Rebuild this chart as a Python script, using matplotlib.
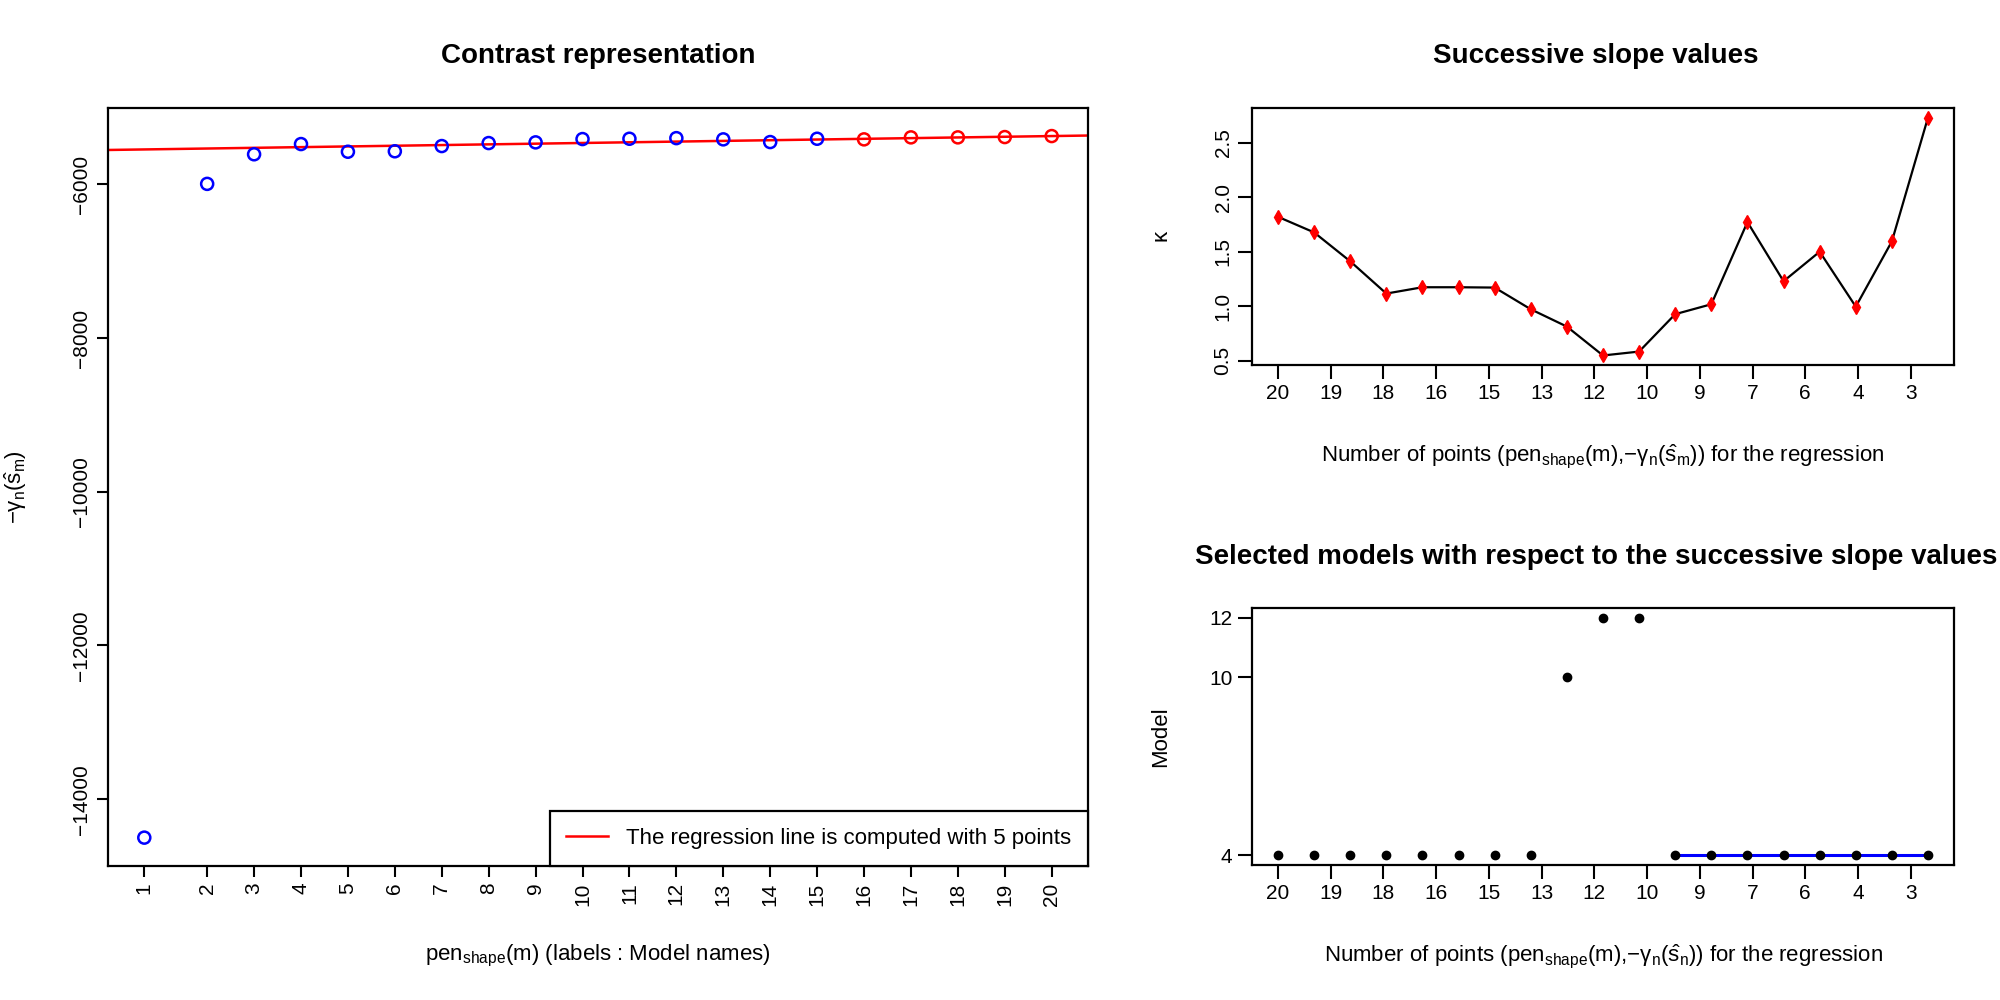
import numpy as np
import matplotlib
matplotlib.use("Agg")
import matplotlib.pyplot as plt

plt.rcParams["font.family"] = ["Liberation Sans", "DejaVu Sans"]
plt.rcParams["mathtext.fontset"] = "custom"
plt.rcParams["mathtext.rm"] = "Liberation Sans"
plt.rcParams["mathtext.it"] = "Liberation Sans"
plt.rcParams["mathtext.bf"] = "Liberation Sans:bold"
plt.rcParams["axes.linewidth"] = 1.6

# contrast representation (left)
model_names = [str(i) for i in range(1, 21)]
pen_shape = [1.0, 2.34, 3.34, 4.34, 5.34, 6.34, 7.34, 8.34, 9.34, 10.34,
             11.34, 12.34, 13.34, 14.34, 15.34, 16.34, 17.34, 18.34, 19.34, 20.34]
contrast = [-14500, -5995, -5610, -5477, -5577, -5571, -5503, -5464, -5455, -5412,
            -5408, -5400, -5416, -5451, -5408, -5416, -5390, -5390, -5386, -5373]
n_reg = 5

# successive slope values (top right)
kappa = [1.821, 1.678, 1.413, 1.117, 1.175, 1.175, 1.172, 0.973, 0.814, 0.549,
         0.585, 0.928, 1.019, 1.773, 1.230, 1.501, 0.997, 1.596, 2.732]
npoint_labels = ["20", "19", "18", "16", "15", "13", "12", "10", "9", "7", "6", "4", "3"]

# selected models (bottom right)
selected_model = [4, 4, 4, 4, 4, 4, 4, 4, 10, 12, 12, 4, 4, 4, 4, 4, 4, 4, 4]
stable_start = 12  # first index of the plateau (1-based)

TICK = 15
LAB = 16
TITLE = 20


def r_lim(vals):
    # R style axis range: data range extended by 4% each side
    lo, hi = min(vals), max(vals)
    pad = 0.04 * (hi - lo)
    return lo - pad, hi + pad


fig = plt.figure(figsize=(20, 10), dpi=100)

# ---------------- left panel ----------------
ax1 = fig.add_axes([0.054, 0.1343, 0.49, 0.7577])
x = np.array(pen_shape)
y = np.array(contrast)
cols = ["blue"] * (len(x) - n_reg) + ["red"] * n_reg
ax1.scatter(x, y, s=75, facecolors="none", edgecolors=cols, linewidths=1.8, zorder=3)
slope, icpt = np.polyfit(x[-n_reg:], y[-n_reg:], 1)
ax1.axline((0, icpt), slope=slope, color="red", lw=1.8,
           label="The regression line is computed with %d points" % n_reg)
ax1.set_xlim(*r_lim(x))
ax1.set_ylim(*r_lim(y))
ax1.set_xticks(x)
ax1.set_xticklabels(model_names, rotation=90)
ax1.set_yticks([-14000, -12000, -10000, -8000, -6000])
ax1.set_yticklabels(["\u221214000", "\u221212000", "\u221210000", "\u22128000", "\u22126000"],
                    rotation=90, va="center")
ax1.tick_params(length=8, width=1.5, labelsize=TICK, pad=4)
ax1.set_ylabel(r"$-\gamma_n(\hat{s}_m)$", fontsize=LAB, va="center")
ax1.yaxis.set_label_coords(-0.094, 0.5)
ax1.set_xlabel(r"$\mathrm{pen}_{\mathrm{shape}}(\mathrm{m})$ (labels : Model names)", fontsize=LAB)
ax1.xaxis.set_label_coords(0.5, -0.102)
ax1.text(0.5, 1.069, "Contrast representation", transform=ax1.transAxes,
         ha="center", va="center", fontsize=TITLE, fontweight="bold")
leg = ax1.legend(loc="lower right", fontsize=LAB, frameon=True, fancybox=False,
                 edgecolor="black", framealpha=1, borderaxespad=0, handlelength=1.9,
                 borderpad=0.75, handletextpad=0.8)
leg.get_frame().set_linewidth(1.6)

xlab_right = r"Number of points $(\mathrm{pen}_{\mathrm{shape}}(\mathrm{m}){,}{-}\gamma_n(\hat{s}_%s))$ for the regression"

# ---------------- top right ----------------
ax2 = fig.add_axes([0.626, 0.635, 0.351, 0.257])
idx = np.arange(1, len(kappa) + 1)
ax2.plot(idx, kappa, color="black", lw=1.6, zorder=2)
ax2.plot(idx, kappa, ls="none", marker="d", ms=7.5, color="red", zorder=3)
ax2.set_xlim(*r_lim(idx))
ax2.set_ylim(*r_lim(kappa))
tick_pos = np.linspace(1, 18.52, len(npoint_labels))
ax2.set_xticks(tick_pos)
ax2.set_xticklabels(npoint_labels)
ax2.set_yticks([0.5, 1.0, 1.5, 2.0, 2.5])
ax2.set_yticklabels(["0.5", "1.0", "1.5", "2.0", "2.5"], rotation=90, va="center")
ax2.tick_params(length=10, width=1.5, labelsize=TICK, pad=4)
ax2.set_ylabel(r"$\kappa$", fontsize=LAB, va="center")
ax2.yaxis.set_label_coords(-0.127, 0.5)
ax2.set_xlabel(xlab_right % "m", fontsize=LAB)
ax2.xaxis.set_label_coords(0.5, -0.30)
ax2.text(0.49, 1.202, "Successive slope values", transform=ax2.transAxes,
         ha="center", va="center", fontsize=TITLE, fontweight="bold")

# ---------------- bottom right ----------------
ax3 = fig.add_axes([0.626, 0.135, 0.351, 0.257])
ax3.plot(idx, selected_model, ls="none", marker="o", ms=6, color="black", zorder=3)
ax3.plot(idx[stable_start - 1:], selected_model[stable_start - 1:], color="blue", lw=2.2, zorder=2)
ax3.set_xlim(*r_lim(idx))
ax3.set_ylim(*r_lim(selected_model))
ax3.set_xticks(tick_pos)
ax3.set_xticklabels(npoint_labels)
ax3.set_yticks(sorted(set(selected_model)))
ax3.tick_params(length=10, width=1.5, labelsize=TICK, pad=4)
ax3.set_ylabel("Model", fontsize=LAB, va="center")
ax3.yaxis.set_label_coords(-0.13, 0.5)
ax3.set_xlabel(xlab_right % "n", fontsize=LAB)
ax3.xaxis.set_label_coords(0.5, -0.30)
ax3.text(0.49, 1.198, "Selected models with respect to the successive slope values",
         transform=ax3.transAxes, ha="center", va="center", fontsize=TITLE, fontweight="bold")

fig.savefig("out.png", dpi=100)
